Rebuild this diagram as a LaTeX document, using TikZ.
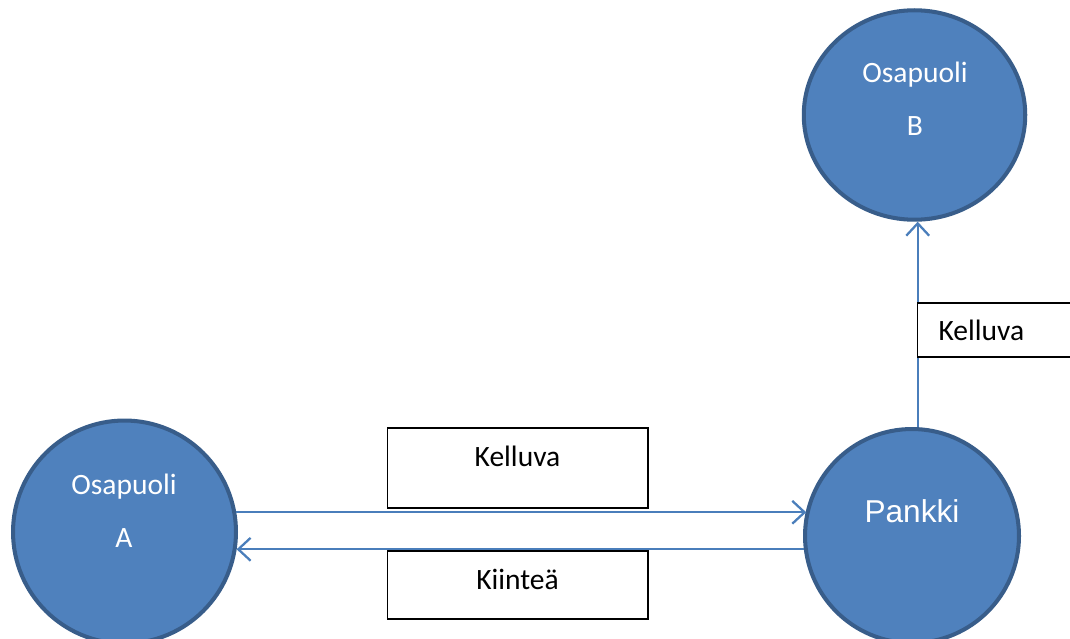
\documentclass[tikz,border=0pt]{standalone}
\usepackage{fontspec}
\setmainfont{Carlito}
\newfontfamily\arialfont{Liberation Sans}
\usepackage{tikz}
\usetikzlibrary{arrows.meta,shapes.geometric}
\usepackage{xcolor}
\definecolor{partyblue}{RGB}{79,129,189}
\definecolor{partyedge}{RGB}{56,93,138}
\definecolor{flowblue}{RGB}{74,126,187}
\tikzset{%
    party/.style={%
        circle, draw=partyedge, fill=partyblue, line width=2.3pt,
        inner sep=0pt, minimum size=#1
    },
    partytext/.style={%
        anchor=base, text=white, font=\fontsize{16.8}{19}\selectfont
    },
    flow/.style={%
        draw=flowblue, line width=1.3pt,
        -{Straight Barb[length=7pt,width=13pt,line width=1.3pt]}
    },
    legbox/.style={%
        draw=black, fill=white, line width=0.6pt, inner sep=0pt,
        font=\fontsize{16.8}{19}\selectfont
    }
}

\begin{document}
\begin{tikzpicture}[x=0.02cm,y=-0.02cm]
    \useasboundingbox (0,0) rectangle (1070,638);
    % osapuolet ja pankki
    \node[party=4.46cm] (A) at (124.5,532) {};
    \node[party=4.28cm] (P) at (912,536) {};
    \node[party=4.43cm, ellipse, minimum height=4.19cm] (B) at (914.5,115) {};
    \node[partytext] (Aname) at (124,494) {Osapuoli};
    \node[partytext] (Aletter) at (124,547.7) {A};
    \node[partytext] (Bname) at (915,82.7) {Osapuoli};
    \node[partytext] (Bletter) at (915,135.7) {B};
    \node[partytext, font=\arialfont\fontsize{18}{21}\selectfont] (Pname) at (912,522.7) {Pankki};
    % maksuvirrat
    \draw[flow] (A.10.66) -- (P.166.74 |- A.10.66);
    \draw[flow] (P.187.91) -- (A.-9.64 |- P.187.91);
    \draw[flow] (P.87.37) -- (B.-88.7 -| P.87.37);
    % korkolaatikot
    \node[legbox, minimum width=5.22cm, text height=0.774cm, text depth=0.826cm] (float1) at (517.5,468) {Kelluva};
    \node[legbox, minimum width=5.22cm, text height=0.766cm, text depth=0.594cm] (fixed) at (517.5,585) {Kiinteä};
    \node[legbox, anchor=west, inner xsep=0.42cm, text width=3cm, align=left,
          text height=0.754cm, text depth=0.326cm] (float2) at (917,330) {Kelluva};
\end{tikzpicture}
\end{document}
